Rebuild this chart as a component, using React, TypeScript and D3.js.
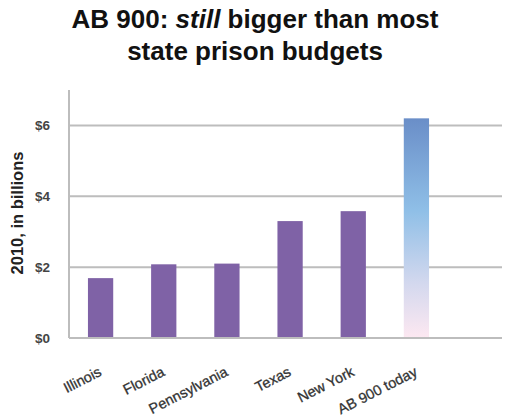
import React from 'react';
import * as d3 from 'd3';

// data
const categories = ['Illinois', 'Florida', 'Pennsylvania', 'Texas', 'New York', 'AB 900 today'];
const budgets = [1.69, 2.08, 2.1, 3.3, 3.58, 6.2];
const yTicks = [0, 2, 4, 6];

const width = 506;
const height = 417;
const margin = { top: 90, left: 69, bottom: 79, right: 4 };
const plotRight = 448; // where the category bands end
const y0 = height - margin.bottom;

const App = () => {
  const x = d3.scaleBand<string>()
    .domain(categories)
    .range([margin.left, plotRight])
    .paddingInner(0.6)
    .paddingOuter(0.3);

  const y = d3.scaleLinear().domain([0, 7]).range([y0, margin.top]);

  return (
    <svg width={width} height={height} style={{ position: 'absolute', left: 0, top: 0 }}
      fontFamily="'Liberation Sans', Arial, sans-serif">
      <defs>
        <linearGradient id="abGrad" x1="0" y1="0" x2="0" y2="1">
          <stop offset="0%" stopColor="#6a8ec8" />
          <stop offset="42%" stopColor="#8fbfe7" />
          <stop offset="75%" stopColor="#d3d8ee" />
          <stop offset="100%" stopColor="#fde8f1" />
        </linearGradient>
      </defs>
      <rect width={width} height={height} fill="#fff" />

      {/* title */}
      <text x={255} y={28} textAnchor="middle" fontSize={26} fontWeight="bold" fill="#111">
        AB 900: <tspan fontStyle="italic">still</tspan> bigger than most
      </text>
      <text x={255} y={60} textAnchor="middle" fontSize={26} fontWeight="bold" fill="#111">
        state prison budgets
      </text>

      {/* gridlines */}
      {yTicks.filter(t => t > 0).map(t => (
        <line key={t} x1={margin.left} x2={width - margin.right} y1={y(t)} y2={y(t)}
          stroke="#bdbdbd" strokeWidth={2} />
      ))}

      {/* bars */}
      {categories.map((c, i) => (
        <rect key={c} x={x(c)} y={y(budgets[i])} width={x.bandwidth()} height={y0 - y(budgets[i])}
          fill={i === categories.length - 1 ? 'url(#abGrad)' : '#7f62a6'} />
      ))}

      {/* axes */}
      <line x1={margin.left} x2={margin.left} y1={margin.top} y2={y0} stroke="#bdbdbd" strokeWidth={2} />
      <line x1={margin.left} x2={width - margin.right} y1={y0} y2={y0} stroke="#bdbdbd" strokeWidth={2} />

      {yTicks.map(t => (
        <text key={t} x={50} y={y(t) + 5} textAnchor="end" fontSize={13.5} fontWeight="bold" fill="#444">
          ${t}
        </text>
      ))}

      <text transform={`translate(23,${(margin.top + y0) / 2 - 1}) rotate(-90)`} textAnchor="middle"
        fontSize={16.5} fontWeight="bold" fill="#222">
        2010, in billions
      </text>

      {categories.map(c => {
        const cx = (x(c) ?? 0) + x.bandwidth() / 2 + 2;
        return (
          <text key={c} transform={`translate(${cx},${y0 + 37}) rotate(-27)`} textAnchor="end"
            fontSize={14.5} fill="#333" stroke="#333" strokeWidth={0.3}>
            {c}
          </text>
        );
      })}
    </svg>
  );
};

export default App;
